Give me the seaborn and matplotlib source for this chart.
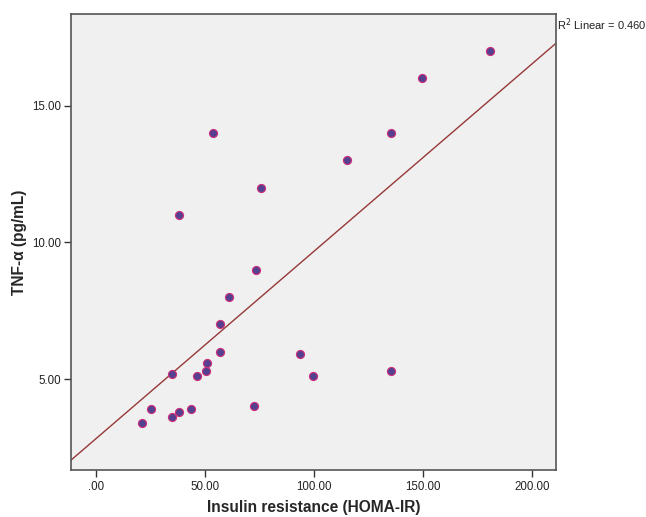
import numpy as np
import pandas as pd
import matplotlib
matplotlib.use("Agg")
import matplotlib.pyplot as plt
import seaborn as sns

homa_ir = [180.7, 149.4, 135.2, 115.3, 53.6, 75.8, 38.3, 73.5, 61.0, 56.8,
           56.8, 93.8, 51.0, 50.7, 46.3, 35.1, 99.6, 72.7, 43.7, 25.5,
           38.0, 35.1, 21.2, 135.2]
tnf_alpha = [17.0, 16.0, 14.0, 13.0, 14.0, 12.0, 11.0, 9.0, 8.0, 7.0,
             6.0, 5.9, 5.6, 5.3, 5.1, 5.2, 5.1, 4.0, 3.9, 3.9,
             3.8, 3.6, 3.4, 5.3]
x_ticks = [0, 50, 100, 150, 200]
y_ticks = [5, 10, 15]

df = pd.DataFrame({"homa": homa_ir, "tnf": tnf_alpha})

sns.set_style("ticks")
plt.rcParams['font.family'] = ['Liberation Sans', 'DejaVu Sans']

fig = plt.figure(figsize=(6.46, 5.17), dpi=100)
ax = fig.add_axes([0.1099, 0.0909, 0.7508, 0.882])
ax.set_facecolor('#f0f0f0')
ax.set_xlim(-11.3, 211)
ax.set_ylim(1.67, 18.36)

sns.regplot(data=df, x="homa", y="tnf", ax=ax, ci=None, truncate=False,
            scatter_kws=dict(s=34, color='#55408f', edgecolors='#d0307a',
                             linewidths=0.8, alpha=1, zorder=3),
            line_kws=dict(color='#973838', lw=1.0, zorder=2))

ax.set_xticks(x_ticks)
ax.set_xticklabels([".00" if v == 0 else f"{v:.2f}" for v in x_ticks])
ax.set_yticks(y_ticks)
ax.set_yticklabels([f"{v:.2f}" for v in y_ticks])
ax.tick_params(direction='out', length=5, width=1, color='#333333',
               labelsize=8.3, labelcolor='#222222', pad=2)
ax.tick_params(axis='x', pad=3)

for sp in ax.spines.values():
    sp.set_visible(True)
    sp.set_color('#555555')
    sp.set_linewidth(1.2)

ax.set_xlabel("Insulin resistance (HOMA-IR)", fontsize=11.2, fontweight='bold', labelpad=5)
ax.set_ylabel("TNF-α (pg/mL)", fontsize=11.2, fontweight='bold', labelpad=4)

ax.text(1.002, 0.995, r"R$^2$ Linear = 0.460", transform=ax.transAxes,
        fontsize=8.0, ha='left', va='top', color='#222222')

fig.savefig("out.png", dpi=100)
